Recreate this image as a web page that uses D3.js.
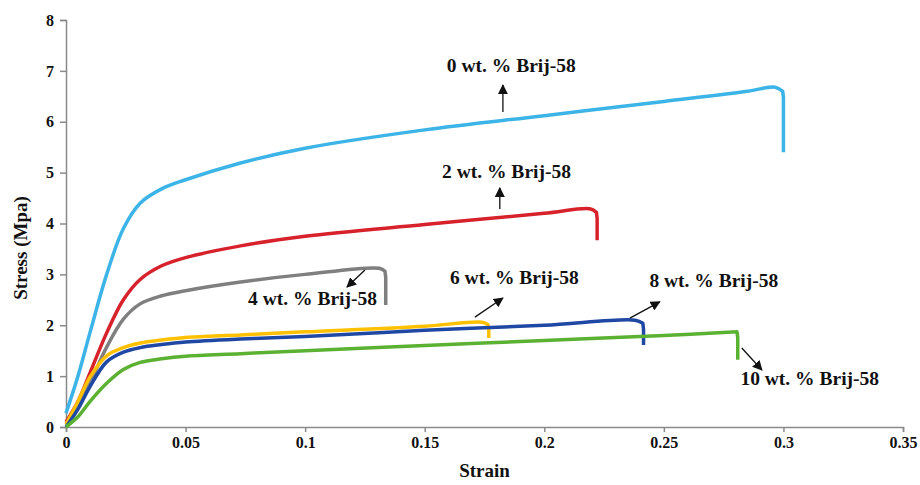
<!DOCTYPE html>
<html>
<head>
<meta charset="utf-8">
<script src="https://cdn.jsdelivr.net/npm/d3@7"></script>
<style>
  body { margin: 0; background: #fff; }
  text { font-family: "Liberation Serif", "Times New Roman", serif; font-weight: bold; fill: #111; }
</style>
</head>
<body>
<div id="chart"></div>
<script>
//x and y ticks
var xTicks = [0, 0.05, 0.1, 0.15, 0.2, 0.25, 0.3, 0.35];
var yTicks = [0, 1, 2, 3, 4, 5, 6, 7, 8];

//curves: strain / stress pairs, last value is the break drop
var strain0 = [0, 0.005, 0.01, 0.017, 0.024, 0.031, 0.04, 0.05, 0.073, 0.1, 0.15, 0.2, 0.25, 0.285, 0.2965, 0.2997];
var stress0 = [0.27, 1.0, 1.85, 3.0, 3.9, 4.4, 4.68, 4.86, 5.19, 5.48, 5.84, 6.12, 6.4, 6.6, 6.68, 6.6];
var drop0 = 5.4;

var strain2 = [0, 0.005, 0.01, 0.017, 0.024, 0.031, 0.04, 0.05, 0.073, 0.1, 0.15, 0.2, 0.219, 0.2218];
var stress2 = [0.1, 0.5, 1.06, 1.85, 2.5, 2.9, 3.17, 3.33, 3.56, 3.75, 3.98, 4.2, 4.29, 4.22];
var drop2 = 3.67;

var strain4 = [0, 0.005, 0.01, 0.017, 0.024, 0.031, 0.04, 0.05, 0.073, 0.1, 0.131, 0.1334];
var stress4 = [0.05, 0.4, 0.86, 1.57, 2.12, 2.42, 2.58, 2.68, 2.85, 3.0, 3.12, 3.06];
var drop4 = 2.4;

var strain6 = [0, 0.005, 0.01, 0.017, 0.024, 0.031, 0.04, 0.05, 0.073, 0.1, 0.15, 0.174, 0.1765];
var stress6 = [0.05, 0.5, 0.98, 1.4, 1.56, 1.65, 1.71, 1.76, 1.81, 1.87, 1.98, 2.06, 2.01];
var drop6 = 1.75;

var strain8 = [0, 0.005, 0.01, 0.017, 0.024, 0.031, 0.04, 0.05, 0.073, 0.1, 0.15, 0.2, 0.238, 0.2412];
var stress8 = [0.0, 0.35, 0.79, 1.28, 1.47, 1.56, 1.62, 1.67, 1.73, 1.78, 1.9, 2.0, 2.1, 2.04];
var drop8 = 1.61;

var strain10 = [0, 0.005, 0.01, 0.017, 0.024, 0.031, 0.04, 0.05, 0.073, 0.1, 0.15, 0.2, 0.25, 0.2806];
var stress10 = [0, 0.2, 0.5, 0.86, 1.13, 1.27, 1.34, 1.39, 1.44, 1.5, 1.6, 1.7, 1.8, 1.87];
var drop10 = 1.32;

var names = ['0 wt. % Brij-58', '2 wt. % Brij-58', '4 wt. % Brij-58', '6 wt. % Brij-58', '8 wt. % Brij-58', '10 wt. % Brij-58'];
var colors = ['#3cb4e8', '#d7222c', '#7f7f7f', '#ffc000', '#1f48a4', '#5bb132'];

//label spot (strain, stress) and arrow from -> to
var labelAt = [[0.1862, 6.98], [0.1842, 4.89], [0.1031, 2.40], [0.1875, 2.81], [0.2709, 2.75], [0.311, 0.826]];
var arrowFrom = [[0.1827, 6.19], [0.1814, 4.285], [0.125, 3.086], [0.171, 2.16], [0.2358, 2.14], [0.2826, 1.553]];
var arrowTo = [[0.1827, 6.72], [0.1814, 4.70], [0.1175, 2.75], [0.1827, 2.535], [0.2483, 2.46], [0.291, 1.12]];

var w = 920;
var h = 485;
var m = {left: 66, right: 17, top: 20, bottom: 58};

var x = d3.scaleLinear().domain([0, 0.35]).range([m.left, w - m.right]);
var y = d3.scaleLinear().domain([0, 8]).range([h - m.bottom, m.top]);

var svg = d3.select('#chart')
  .append('svg')
  .attr('width', w)
  .attr('height', h);

svg.append('defs').append('marker')
  .attr('id', 'head')
  .attr('viewBox', '0 0 10 10')
  .attr('refX', 9)
  .attr('refY', 5)
  .attr('markerWidth', 10)
  .attr('markerHeight', 10)
  .attr('markerUnits', 'userSpaceOnUse')
  .attr('orient', 'auto')
  .append('path')
  .attr('d', 'M0,0L10,5L0,10z')
  .attr('fill', '#111');

//axes
var xAxis = svg.append('g')
  .attr('transform', 'translate(0,' + y(0) + ')')
  .call(d3.axisBottom(x).tickValues(xTicks).tickFormat(function(d) { return d; }).tickSizeOuter(0).tickSize(5).tickPadding(5));
var yAxis = svg.append('g')
  .attr('transform', 'translate(' + x(0) + ',0)')
  .call(d3.axisLeft(y).tickValues(yTicks).tickSizeOuter(0).tickSize(6).tickPadding(6));

svg.selectAll('.domain').attr('stroke', '#8a8a8a').attr('stroke-width', 1.5);
svg.selectAll('.tick line').attr('stroke', '#8a8a8a').attr('stroke-width', 1.5);
xAxis.selectAll('text').style('font-size', '16px').attr('fill', '#111');
yAxis.selectAll('text').style('font-size', '16px').attr('fill', '#111');

svg.append('text')
  .attr('x', (m.left + w - m.right) / 2)
  .attr('y', 477)
  .attr('text-anchor', 'middle')
  .style('font-size', '19px')
  .text('Strain');

svg.append('text')
  .attr('transform', 'translate(27,' + 248 + ') rotate(-90)')
  .attr('text-anchor', 'middle')
  .style('font-size', '19px')
  .text('Stress (Mpa)');

//curves
var strains = [strain0, strain2, strain4, strain6, strain8, strain10];
var stresses = [stress0, stress2, stress4, stress6, stress8, stress10];
var drops = [drop0, drop2, drop4, drop6, drop8, drop10];

var line = d3.line()
  .x(function(d) { return x(d[0]); })
  .y(function(d) { return y(d[1]); })
  .curve(d3.curveCatmullRom.alpha(0.5));

strains.forEach(function(s, i) {
  var pts = s.map(function(v, j) { return [v, stresses[i][j]]; });
  var last = pts[pts.length - 1];
  var path = line(pts) + 'L' + x(last[0] + 0.0003) + ',' + y(last[1] - 0.12) + 'L' + x(last[0] + 0.0003) + ',' + y(drops[i]);
  svg.append('path')
    .attr('d', path)
    .attr('fill', 'none')
    .attr('stroke', colors[i])
    .attr('stroke-width', 3.5)
    .attr('stroke-linejoin', 'round');
});

//labels and arrows
names.forEach(function(n, i) {
  svg.append('line')
    .attr('x1', x(arrowFrom[i][0]))
    .attr('y1', y(arrowFrom[i][1]))
    .attr('x2', x(arrowTo[i][0]))
    .attr('y2', y(arrowTo[i][1]))
    .attr('stroke', '#111')
    .attr('stroke-width', 1.3)
    .attr('marker-end', 'url(#head)');
  svg.append('text')
    .attr('x', x(labelAt[i][0]))
    .attr('y', y(labelAt[i][1]))
    .attr('text-anchor', 'middle')
    .style('font-size', '19.5px')
    .text(n);
});
</script>
</body>
</html>
